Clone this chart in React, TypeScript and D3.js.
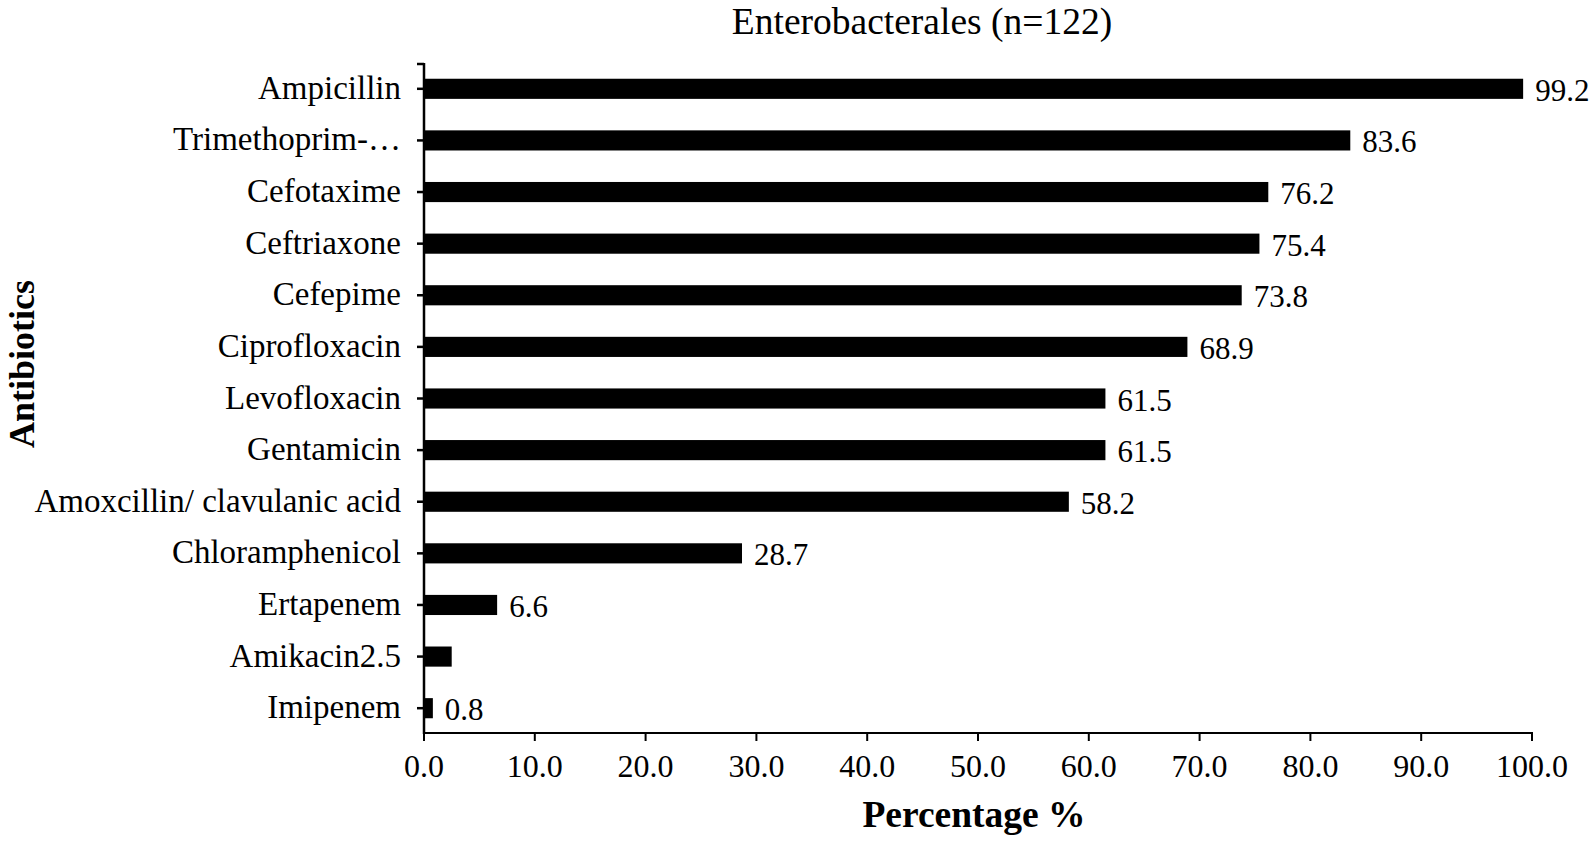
import React from "react";
import * as d3 from "d3";

const categories = [
  "Ampicillin",
  "Trimethoprim-…",
  "Cefotaxime",
  "Ceftriaxone",
  "Cefepime",
  "Ciprofloxacin",
  "Levofloxacin",
  "Gentamicin",
  "Amoxcillin/ clavulanic acid",
  "Chloramphenicol",
  "Ertapenem",
  "Amikacin2.5",
  "Imipenem",
];
const values = [99.2, 83.6, 76.2, 75.4, 73.8, 68.9, 61.5, 61.5, 58.2, 28.7, 6.6, 2.5, 0.8];
const valueLabels = ["99.2", "83.6", "76.2", "75.4", "73.8", "68.9", "61.5", "61.5", "58.2", "28.7", "6.6", "", "0.8"];
const xTicks = [0, 10, 20, 30, 40, 50, 60, 70, 80, 90, 100];
const title = "Enterobacterales (n=122)";
const xTitle = "Percentage %";
const yTitle = "Antibiotics";

const W = 1590;
const H = 841;
const FONT = "'Liberation Serif', 'Times New Roman', serif";

export default function App() {
  const x = d3.scaleLinear().domain([0, 100]).range([424, 1532]);
  const y = d3
    .scaleBand<string>()
    .domain(categories)
    .range([63, 734])
    .paddingInner(0.61)
    .paddingOuter(0.305);
  const bw = y.bandwidth();
  const axisY = 733;
  const axisX = x(0);

  return (
    <svg
      width={W}
      height={H}
      style={{ position: "absolute", left: 0, top: 0, background: "#fff" }}
      fontFamily={FONT}
    >
      <rect x={0} y={0} width={W} height={H} fill="#fff" />
      <text x={922} y={34} fontSize={37.5} textAnchor="middle" fill="#000">
        {title}
      </text>

      {/* bars */}
      {categories.map((c, i) => (
        <rect
          key={c}
          x={x(0)}
          y={y(c)!}
          width={x(values[i]) - x(0)}
          height={bw}
          fill="#000"
        />
      ))}

      {/* value labels */}
      {categories.map((c, i) =>
        valueLabels[i] ? (
          <text
            key={"v" + c}
            x={x(values[i]) + 12}
            y={y(c)! + bw / 2 + 12}
            fontSize={31}
            fill="#000"
          >
            {valueLabels[i]}
          </text>
        ) : null
      )}

      {/* y axis */}
      <line x1={axisX} x2={axisX} y1={63} y2={axisY + 1} stroke="#000" strokeWidth={2.5} />
      <line x1={axisX - 7} x2={axisX} y1={64} y2={64} stroke="#000" strokeWidth={2.5} />
      {categories.map((c) => {
        const cy = y(c)! + bw / 2;
        return (
          <g key={"t" + c}>
            <line x1={axisX - 7} x2={axisX} y1={cy} y2={cy} stroke="#000" strokeWidth={2.5} />
            <text x={401} y={cy + 10} fontSize={33} textAnchor="end" fill="#000">
              {c}
            </text>
          </g>
        );
      })}

      {/* x axis */}
      <line x1={axisX} x2={x(100) + 1} y1={axisY} y2={axisY} stroke="#000" strokeWidth={2} />
      {xTicks.map((t) => (
        <g key={"x" + t}>
          <line x1={x(t)} x2={x(t)} y1={axisY} y2={axisY + 8} stroke="#000" strokeWidth={2} />
          <text x={x(t)} y={777} fontSize={32} textAnchor="middle" fill="#000">
            {t.toFixed(1)}
          </text>
        </g>
      ))}

      <text x={974} y={827} fontSize={37.5} fontWeight="bold" textAnchor="middle" fill="#000">
        {xTitle}
      </text>
      <text
        transform={`translate(34, 364) rotate(-90)`}
        fontSize={36}
        fontWeight="bold"
        textAnchor="middle"
        fill="#000"
      >
        {yTitle}
      </text>
    </svg>
  );
}
